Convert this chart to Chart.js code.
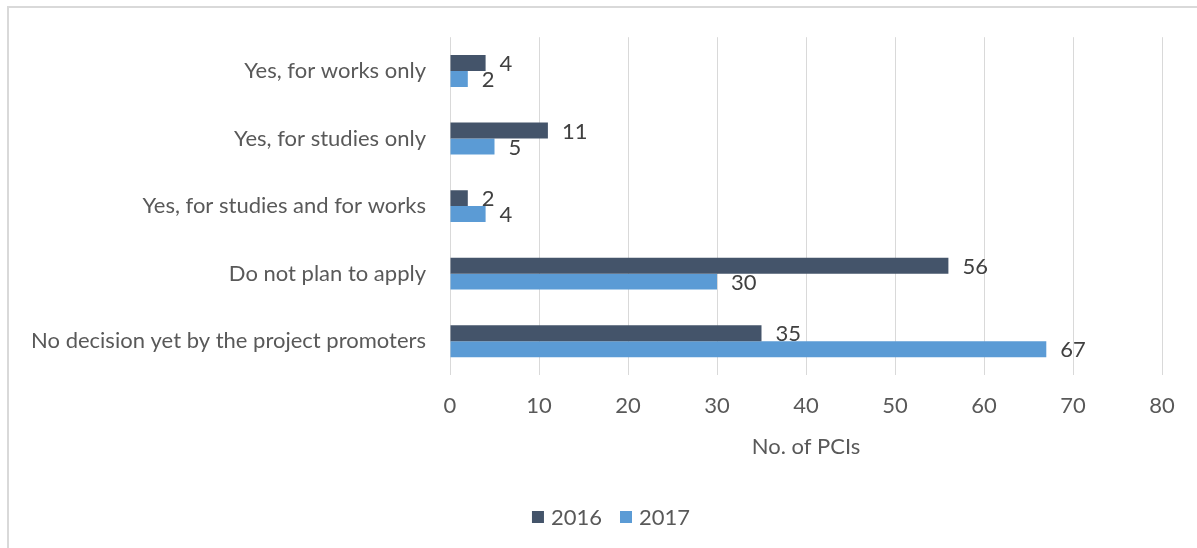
<!DOCTYPE html>
<html>
<head>
<meta charset="utf-8">
<script src="https://cdn.jsdelivr.net/npm/chart.js@4/dist/chart.umd.min.js"></script>
<style>
  html, body { margin: 0; padding: 0; background: #ffffff; }
  #wrap { width: 1197px; height: 548px; position: relative; }
</style>
</head>
<body>
<div id="wrap"><canvas id="c" width="1197" height="548"></canvas></div>
<script>
const categories = [
  "Yes, for works only",
  "Yes, for studies only",
  "Yes, for studies and for works",
  "Do not plan to apply",
  "No decision yet by the project promoters"
];
const seriesNames = ["2016", "2017"];
const values2016 = [4, 11, 2, 56, 35];
const values2017 = [2, 5, 4, 30, 67];
const xTicks = [0, 10, 20, 30, 40, 50, 60, 70, 80];
const axisTitle = "No. of PCIs";

const FONT = "Lato, Calibri, Carlito, 'Noto Sans', sans-serif";

const framePlugin = {
  id: 'frame',
  beforeDraw(chart) {
    const ctx = chart.ctx;
    ctx.save();
    ctx.fillStyle = '#ffffff';
    ctx.fillRect(0, 0, chart.width, chart.height);
    ctx.strokeStyle = '#d9d9d9';
    ctx.lineWidth = 2;
    ctx.beginPath();
    ctx.moveTo(8, chart.height);
    ctx.lineTo(8, 7);
    ctx.lineTo(chart.width, 7);
    ctx.stroke();
    ctx.restore();
  }
};

const labelPlugin = {
  id: 'barLabels',
  afterDatasetsDraw(chart) {
    const ctx = chart.ctx;
    ctx.save();
    ctx.font = "22px " + FONT;
    ctx.fillStyle = '#404040';
    ctx.textAlign = 'left';
    ctx.textBaseline = 'middle';
    chart.data.datasets.forEach((ds, di) => {
      const meta = chart.getDatasetMeta(di);
      meta.data.forEach((el, i) => {
        ctx.fillText(String(ds.data[i]), el.x + 14, el.y + 1);
      });
    });
    ctx.restore();
  }
};

// Legend drawn from the datasets, centred under the frame like the original
const legendPlugin = {
  id: 'customLegend',
  afterDraw(chart) {
    const ctx = chart.ctx;
    ctx.save();
    ctx.font = "22px " + FONT;
    ctx.textBaseline = 'middle';
    ctx.textAlign = 'left';
    const box = 12, gap = 7, itemGap = 18;
    const items = chart.data.datasets.map(ds => ({
      text: ds.label, color: ds.backgroundColor, w: box + gap + ctx.measureText(ds.label).width
    }));
    const total = items.reduce((s, it) => s + it.w, 0) + itemGap * (items.length - 1);
    const cy = 517;
    let x = 611 - total / 2;
    items.forEach(it => {
      ctx.fillStyle = it.color;
      ctx.fillRect(x, cy - box / 2, box, box);
      ctx.fillStyle = '#595959';
      ctx.fillText(it.text, x + box + gap, cy + 1);
      x += it.w + itemGap;
    });
    ctx.restore();
  }
};

new Chart(document.getElementById('c'), {
  type: 'bar',
  data: {
    labels: categories,
    datasets: [
      { label: seriesNames[0], data: values2016, backgroundColor: '#44546A', borderWidth: 0 },
      { label: seriesNames[1], data: values2017, backgroundColor: '#5B9BD5', borderWidth: 0 }
    ]
  },
  options: {
    indexAxis: 'y',
    responsive: false,
    animation: false,
    devicePixelRatio: 1,
    layout: { padding: { top: 36, right: 35, bottom: 52, left: 0 } },
    datasets: { bar: { barPercentage: 1, categoryPercentage: 0.472 } },
    scales: {
      x: {
        type: 'linear',
        min: xTicks[0],
        max: xTicks[xTicks.length - 1],
        afterBuildTicks(scale) { scale.ticks = xTicks.map(v => ({ value: v })); },
        afterFit(scale) { scale.height = 121; },
        grid: { color: '#d9d9d9', lineWidth: 1, drawTicks: false },
        border: { display: false },
        ticks: { color: '#595959', font: { family: FONT, size: 22 }, padding: 18, maxRotation: 0 },
        title: { display: true, text: axisTitle, color: '#595959', font: { family: FONT, size: 22 }, padding: { top: 0, bottom: 36 } }
      },
      y: {
        afterFit(scale) { scale.width = 450; },
        grid: { display: false, drawTicks: false },
        border: { display: false },
        ticks: { color: '#595959', font: { family: FONT, size: 22 }, padding: 24 }
      }
    },
    plugins: {
      legend: { display: false },
      tooltip: { enabled: false }
    }
  },
  plugins: [framePlugin, labelPlugin, legendPlugin]
});
</script>
</body>
</html>
